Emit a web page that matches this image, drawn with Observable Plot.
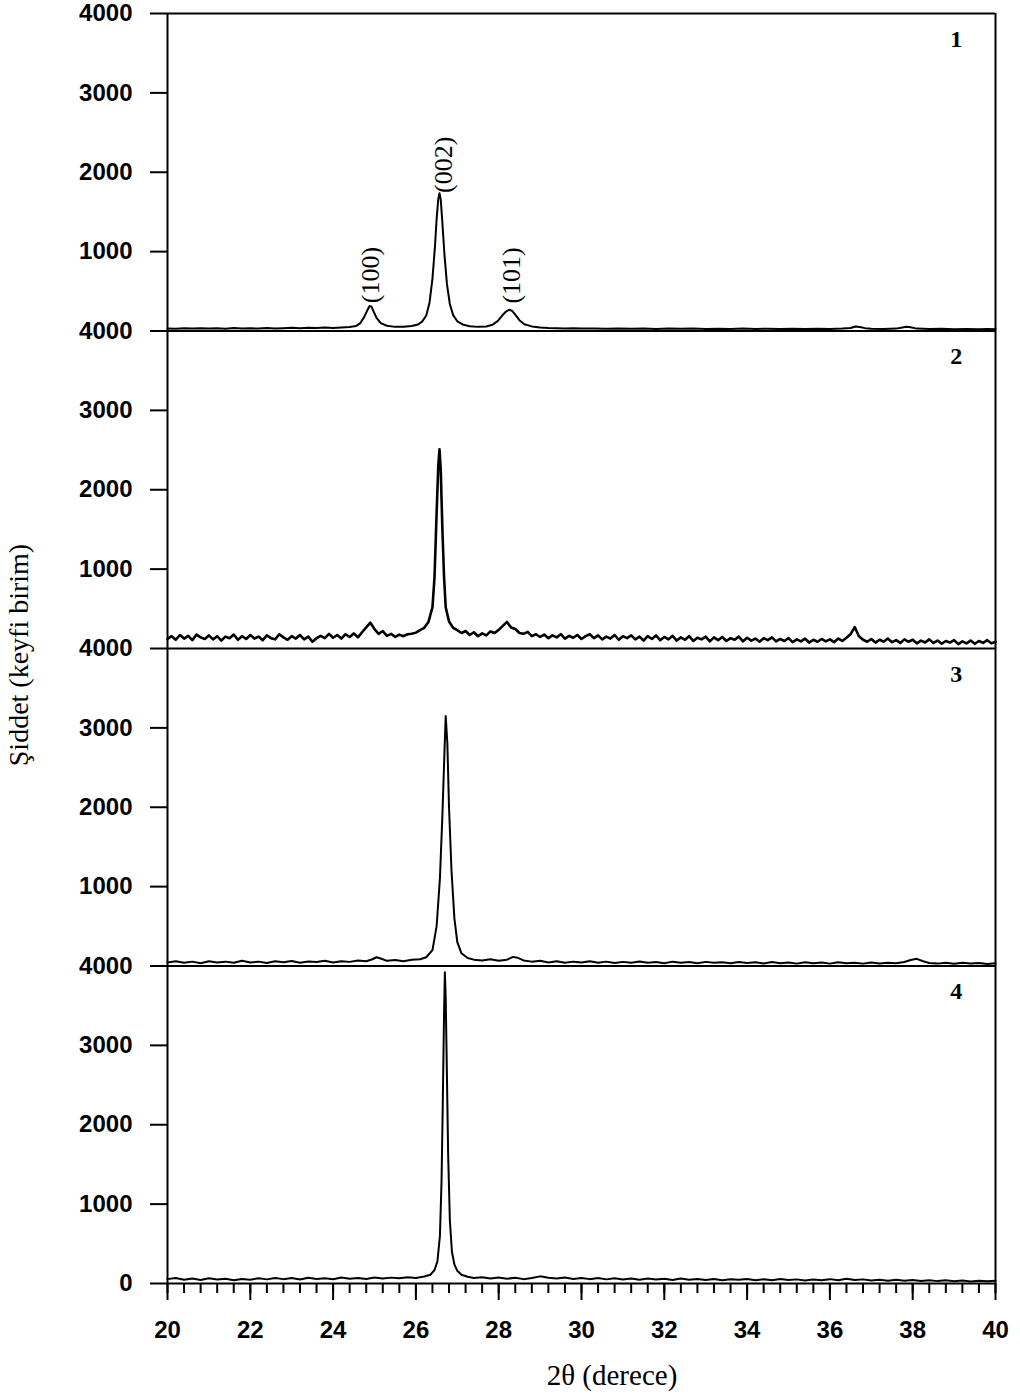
<!DOCTYPE html>
<html>
<head>
<meta charset="utf-8">
<script src="https://cdn.jsdelivr.net/npm/d3@7"></script>
<script src="https://cdn.jsdelivr.net/npm/@observablehq/plot@0.6"></script>
<style>
  html, body { margin: 0; padding: 0; background: #fff; }
  #chart svg { display: block; }
</style>
</head>
<body>
<div id="chart"></div>
<script>
// ---- Data (2θ in degrees, intensity in arbitrary units) ----
const panelIds = [1, 2, 3, 4];
const panelOffsets = [12000, 8000, 4000, 0];
const panelStroke = [2, 2.6, 2, 2];

const series1 = [
[20.0,32],[20.2,28],[20.4,34],[20.6,30],[20.8,36],[21.0,31],[21.2,35],[21.4,29],[21.6,37],[21.8,32],
[22.0,35],[22.2,30],[22.4,38],[22.6,33],[22.8,36],[23.0,40],[23.2,34],[23.4,41],[23.6,37],[23.8,43],
[24.0,39],[24.2,45],[24.4,50],[24.55,62],[24.65,95],[24.75,175],[24.83,265],[24.88,315],[24.93,305],[24.98,245],
[25.05,165],[25.15,100],[25.3,66],[25.5,52],[25.7,55],[25.9,62],[26.05,82],[26.15,118],[26.25,195],[26.33,360],
[26.4,660],[26.46,1060],[26.5,1410],[26.54,1660],[26.57,1735],[26.6,1655],[26.64,1360],[26.69,960],[26.75,590],[26.82,340],
[26.9,200],[27.0,122],[27.15,78],[27.3,60],[27.5,52],[27.7,57],[27.85,78],[27.98,128],[28.08,192],[28.17,242],
[28.25,268],[28.32,256],[28.4,206],[28.5,136],[28.62,86],[28.8,58],[29.0,45],[29.2,38],[29.4,34],[29.6,32],
[29.8,36],[30.0,30],[30.3,33],[30.6,28],[30.9,32],[31.2,27],[31.5,31],[31.8,26],[32.1,30],[32.4,27],
[32.7,31],[33.0,26],[33.3,29],[33.6,25],[33.9,30],[34.2,26],[34.5,29],[34.8,25],[35.1,28],[35.4,24],
[35.7,29],[36.0,26],[36.3,30],[36.5,38],[36.62,56],[36.72,50],[36.85,36],[37.0,28],[37.3,26],[37.6,30],
[37.75,43],[37.85,53],[37.95,46],[38.1,30],[38.4,24],[38.7,27],[39.0,23],[39.3,26],[39.6,22],[39.8,25],[40.0,22]
];

const series2 = [
[20.0,120],[20.1,155],[20.2,110],[20.3,170],[20.4,125],[20.5,160],[20.6,105],[20.7,175],[20.8,140],[20.9,120],
[21.0,165],[21.1,115],[21.2,155],[21.3,100],[21.4,150],[21.5,130],[21.6,175],[21.7,110],[21.8,155],[21.9,120],
[22.0,170],[22.1,125],[22.2,150],[22.3,105],[22.4,165],[22.5,130],[22.6,115],[22.7,180],[22.8,140],[22.9,110],
[23.0,155],[23.1,125],[23.2,170],[23.3,115],[23.4,150],[23.5,85],[23.6,130],[23.7,160],[23.8,130],[23.9,185],
[24.0,135],[24.1,170],[24.2,125],[24.3,180],[24.4,145],[24.5,190],[24.6,140],[24.7,205],[24.8,265],[24.9,325],
[25.0,245],[25.1,185],[25.2,220],[25.3,160],[25.4,185],[25.5,145],[25.6,175],[25.7,155],[25.8,180],[25.9,185],
[26.0,200],[26.1,230],[26.2,260],[26.3,330],[26.4,520],[26.45,900],[26.5,1700],[26.54,2300],[26.57,2510],[26.6,2250],
[26.64,1500],[26.68,900],[26.72,520],[26.8,340],[26.9,260],[27.0,230],[27.1,195],[27.2,220],[27.3,170],[27.4,205],
[27.5,155],[27.6,190],[27.7,165],[27.8,215],[27.9,195],[28.0,235],[28.1,285],[28.2,335],[28.3,265],[28.4,245],
[28.5,195],[28.6,185],[28.7,210],[28.8,155],[28.9,180],[29.0,145],[29.1,175],[29.2,130],[29.3,165],[29.4,140],
[29.5,180],[29.6,125],[29.7,160],[29.8,135],[29.9,170],[30.0,120],[30.1,155],[30.2,180],[30.3,130],[30.4,165],
[30.5,115],[30.6,150],[30.7,125],[30.8,170],[30.9,110],[31.0,155],[31.1,130],[31.2,165],[31.3,115],[31.4,150],
[31.5,100],[31.6,155],[31.7,120],[31.8,165],[31.9,105],[32.0,145],[32.1,115],[32.2,160],[32.3,100],[32.4,140],
[32.5,110],[32.6,155],[32.7,95],[32.8,135],[32.9,115],[33.0,150],[33.1,90],[33.2,140],[33.3,105],[33.4,145],
[33.5,95],[33.6,130],[33.7,110],[33.8,150],[33.9,90],[34.0,135],[34.1,100],[34.2,125],[34.3,85],[34.4,130],
[34.5,105],[34.6,140],[34.7,90],[34.8,120],[34.9,95],[35.0,130],[35.1,80],[35.2,115],[35.3,90],[35.4,125],
[35.5,75],[35.6,110],[35.7,85],[35.8,120],[35.9,90],[36.0,115],[36.1,80],[36.2,125],[36.3,95],[36.4,135],
[36.5,180],[36.6,270],[36.7,155],[36.8,110],[36.9,85],[37.0,120],[37.1,75],[37.2,110],[37.3,85],[37.4,125],
[37.5,80],[37.6,105],[37.7,70],[37.8,115],[37.9,85],[38.0,110],[38.1,65],[38.2,100],[38.3,75],[38.4,115],
[38.5,70],[38.6,100],[38.7,60],[38.8,95],[38.9,75],[39.0,105],[39.1,55],[39.2,90],[39.3,65],[39.4,100],
[39.5,60],[39.6,95],[39.7,70],[39.8,105],[39.9,65],[40.0,85]
];

const series3 = [
[20.0,45],[20.2,60],[20.4,40],[20.6,55],[20.8,35],[21.0,60],[21.2,45],[21.4,55],[21.6,40],[21.8,65],
[22.0,45],[22.2,55],[22.4,38],[22.6,60],[22.8,48],[23.0,62],[23.2,42],[23.4,58],[23.6,50],[23.8,65],
[24.0,45],[24.2,60],[24.4,52],[24.6,68],[24.8,60],[24.95,85],[25.05,110],[25.15,95],[25.3,65],[25.5,75],
[25.7,60],[25.9,80],[26.1,85],[26.25,110],[26.4,200],[26.5,500],[26.58,1100],[26.64,1900],[26.69,2700],[26.72,3150],
[26.76,2800],[26.8,2000],[26.86,1200],[26.93,600],[27.0,300],[27.1,160],[27.25,100],[27.4,80],[27.6,70],[27.8,85],
[28.0,65],[28.2,80],[28.35,115],[28.45,105],[28.6,70],[28.8,55],[29.0,65],[29.2,45],[29.4,60],[29.6,40],
[29.8,55],[30.0,45],[30.2,60],[30.4,40],[30.6,55],[30.8,38],[31.0,52],[31.2,42],[31.4,58],[31.6,40],
[31.8,50],[32.0,36],[32.2,55],[32.4,42],[32.6,50],[32.8,35],[33.0,52],[33.2,40],[33.4,48],[33.6,34],
[33.8,50],[34.0,38],[34.2,46],[34.4,32],[34.6,50],[34.8,36],[35.0,45],[35.2,30],[35.4,48],[35.6,35],
[35.8,44],[36.0,30],[36.2,46],[36.4,34],[36.6,42],[36.8,30],[37.0,45],[37.2,32],[37.4,40],[37.6,35],
[37.8,50],[37.95,75],[38.1,90],[38.25,60],[38.4,38],[38.6,30],[38.8,42],[39.0,28],[39.2,40],[39.4,30],
[39.6,38],[39.8,26],[40.0,35]
];

const series4 = [
[20.0,55],[20.2,70],[20.4,48],[20.6,62],[20.8,45],[21.0,65],[21.2,50],[21.4,60],[21.6,42],[21.8,58],
[22.0,48],[22.2,66],[22.4,52],[22.6,70],[22.8,55],[23.0,68],[23.2,50],[23.4,72],[23.6,58],[23.8,66],
[24.0,54],[24.2,75],[24.4,60],[24.6,70],[24.8,58],[25.0,76],[25.2,62],[25.4,74],[25.6,65],[25.8,78],
[26.0,70],[26.2,88],[26.35,110],[26.45,170],[26.52,280],[26.58,600],[26.62,1300],[26.65,2300],[26.68,3400],[26.7,3920],
[26.72,3600],[26.75,2600],[26.78,1600],[26.82,800],[26.87,400],[26.93,240],[27.0,160],[27.1,110],[27.25,85],[27.4,70],
[27.6,80],[27.8,62],[28.0,75],[28.2,60],[28.4,72],[28.6,55],[28.8,68],[29.0,90],[29.2,72],[29.4,62],
[29.6,75],[29.8,58],[30.0,70],[30.2,55],[30.4,68],[30.6,52],[30.8,66],[31.0,50],[31.2,64],[31.4,48],
[31.6,62],[31.8,50],[32.0,60],[32.2,45],[32.4,62],[32.6,48],[32.8,58],[33.0,44],[33.2,56],[33.4,42],
[33.6,55],[33.8,46],[34.0,58],[34.2,42],[34.4,54],[34.6,40],[34.8,56],[35.0,44],[35.2,52],[35.4,38],
[35.6,50],[35.8,42],[36.0,55],[36.2,40],[36.4,60],[36.6,45],[36.8,52],[37.0,38],[37.2,48],[37.4,36],
[37.6,46],[37.8,34],[38.0,44],[38.2,32],[38.4,42],[38.6,30],[38.8,40],[39.0,28],[39.2,38],[39.4,26],
[39.6,36],[39.8,28],[40.0,34]
];

// Peak annotations on panel 1
const peakLabels = ["(100)", "(002)", "(101)"];
const peakPos = [24.9, 26.66, 28.31];
const peakLabelBase = [350, 1740, 345];

// Axis ticks and labels
const yTicks = [0,1000,2000,3000,4000,5000,6000,7000,8000,9000,10000,11000,12000,13000,14000,15000,16000];
const yTickLabels = ["0","1000","2000","3000","4000","1000","2000","3000","4000","1000","2000","3000","4000","1000","2000","3000","4000"];
const xMajorTicks = [20,22,24,26,28,30,32,34,36,38,40];
const xMinorStep = 0.4;
const xLabel = "2θ (derece)";
const yLabel = "Şiddet (keyfi birim)";

// ---- Build tables ----
const allSeries = [series1, series2, series3, series4];
const rows = allSeries.flatMap((s, k) =>
  s.map(([t, v]) => ({panel: panelIds[k], t, v, y: v + panelOffsets[k], sw: panelStroke[k]})));
const panelTags = panelIds.map((id, k) => ({label: String(id), t: 39.05, y: 3680 + panelOffsets[k]}));
const annots = peakLabels.map((l, i) => ({label: l, t: peakPos[i], y: peakLabelBase[i] + panelOffsets[0]}));
const minorTicks = d3.range(20, 40 + 1e-9, xMinorStep).map(v => +v.toFixed(2));
const frameH = [0, 4000, 8000, 12000, 16000];

const tickFmt = v => yTickLabels[yTicks.indexOf(v)];

const lineMarks = panelIds.map((id, k) =>
  Plot.line(rows.filter(r => r.panel === id), {x: "t", y: "y", stroke: "#000",
    strokeWidth: panelStroke[k], strokeLinejoin: "round", curve: "linear"}));

const chart = Plot.plot({
  width: 1020,
  height: 1396,
  marginTop: 13,
  marginBottom: 113,
  marginLeft: 167,
  marginRight: 25,
  x: {domain: [20, 40]},
  y: {domain: [0, 16000]},
  style: {background: "#fff", color: "#000", fontFamily: "'Liberation Serif', serif"},
  marks: [
    Plot.ruleY(frameH, {x1: 20, x2: 40, stroke: "#000", strokeWidth: 2}),
    Plot.ruleX([20, 40], {y1: 0, y2: 16000, stroke: "#000", strokeWidth: 2}),
    ...lineMarks,
    Plot.axisY({ticks: yTicks, tickFormat: tickFmt, tickSize: 17, tickPadding: 18, strokeWidth: 2,
      fontSize: 24, fontWeight: "bold", fontFamily: "'Liberation Sans', Arial, sans-serif", label: null}),
    Plot.axisX({ticks: minorTicks, tickFormat: () => "", tickSize: 10, strokeWidth: 2, label: null}),
    Plot.axisX({ticks: xMajorTicks, tickSize: 17, tickPadding: 20, strokeWidth: 2,
      fontSize: 24, fontWeight: "bold", fontFamily: "'Liberation Sans', Arial, sans-serif", label: null}),
    Plot.text(panelTags, {x: "t", y: "y", text: "label", fontSize: 24, fontWeight: "bold",
      fontFamily: "'Liberation Serif', serif", fill: "#000"}),
    Plot.text(annots, {x: "t", y: "y", text: "label", rotate: -90, textAnchor: "start",
      fontSize: 26, fontFamily: "'Liberation Serif', serif", fill: "#000"})
  ]
});

const svg = d3.select(chart);
svg.append("text")
  .attr("transform", "translate(28,655) rotate(-90)")
  .attr("text-anchor", "middle")
  .attr("font-family", "'Liberation Serif', serif")
  .attr("font-size", 28)
  .attr("fill", "#000")
  .text(yLabel);
svg.append("text")
  .attr("x", 612)
  .attr("y", 1385)
  .attr("text-anchor", "middle")
  .attr("font-family", "'Liberation Serif', serif")
  .attr("font-size", 29)
  .attr("fill", "#000")
  .text(xLabel);

document.getElementById("chart").appendChild(chart);
</script>
</body>
</html>
